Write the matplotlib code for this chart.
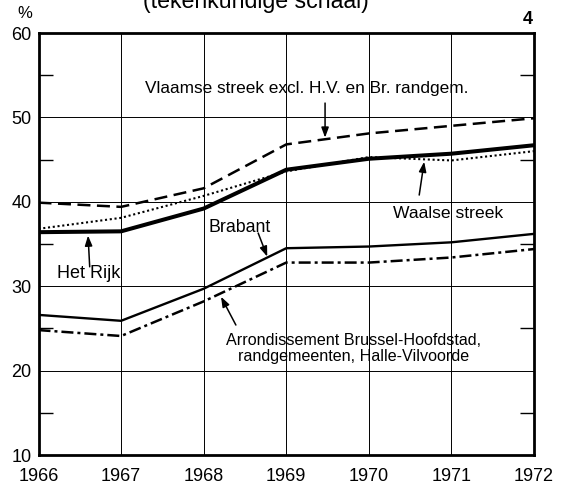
import matplotlib
matplotlib.use("Agg")
import matplotlib.pyplot as plt
from matplotlib.ticker import MultipleLocator

plt.rcParams['font.family'] = ['Liberation Sans', 'DejaVu Sans']

years = [1966, 1967, 1968, 1969, 1970, 1971, 1972]
het_rijk = [36.4, 36.5, 39.2, 43.8, 45.1, 45.7, 46.7]
vlaamse = [39.9, 39.4, 41.6, 46.8, 48.1, 49.0, 49.9]
waalse = [36.8, 38.1, 40.7, 43.6, 45.3, 44.9, 46.0]
brabant = [26.6, 25.9, 29.7, 34.5, 34.7, 35.2, 36.2]
arrond = [24.8, 24.1, 28.2, 32.8, 32.8, 33.4, 34.4]
y_ticks = [10, 20, 30, 40, 50, 60]

W, H = 565, 486
fig = plt.figure(figsize=(W / 100, H / 100), dpi=100)
L, R, T, B = 38.5, 534, 33, 455
ax = fig.add_axes([L / W, 1 - B / H, (R - L) / W, (B - T) / H])

ax.plot(years, vlaamse, color='black', lw=1.8, dashes=(5.2, 2.6))
ax.plot(years, waalse, color='black', lw=1.5, dashes=(1.0, 1.3))
ax.plot(years, het_rijk, color='black', lw=2.9)
ax.plot(years, brabant, color='black', lw=1.7)
ax.plot(years, arrond, color='black', lw=1.8, dashes=(4.8, 1.6, 1.2, 1.6))

ax.set_xlim(1966, 1972)
ax.set_ylim(10, 60)
ax.set_xticks(years)
ax.set_yticks(y_ticks)
ax.yaxis.set_minor_locator(MultipleLocator(5))
ax.grid(True, which='major', color='black', lw=0.7)
ax.tick_params(axis='both', which='major', length=0, labelsize=13)
ax.tick_params(axis='y', which='major', pad=5)
ax.tick_params(axis='x', which='major', pad=9)
ax.tick_params(axis='y', which='minor', length=10, width=1.0, direction='in',
               left=True, right=True)
for s in ax.spines.values():
    s.set_linewidth(2.0)

arr = dict(arrowstyle='-|>,head_length=0.6,head_width=0.22', color='black',
           lw=1.1, shrinkA=0, shrinkB=0)


def label(text, pos, tail, tip, size, **kw):
    ax.text(pos[0], pos[1], text, ha='center', va='center', fontsize=size, **kw)
    ax.annotate('', xy=tip, xytext=tail, arrowprops=arr)


label('Vlaamse streek excl. H.V. en Br. randgem.', (1969.25, 53.37),
      (1969.47, 51.7), (1969.47, 47.6), 12.4)
label('Waalse streek', (1970.96, 38.67), (1970.61, 40.8), (1970.67, 44.75), 12.6)
label('Het Rijk', (1966.61, 31.56), (1966.62, 32.3), (1966.60, 36.0), 13.0)
label('Brabant', (1968.43, 37.0), (1968.66, 36.3), (1968.77, 33.5), 12.8)
label('Arrondissement Brussel-Hoofdstad,\nrandgemeenten, Halle-Vilvoorde',
      (1969.81, 22.62), (1968.39, 25.4), (1968.21, 28.75), 11.6, linespacing=1.05)

fig.text(25 / W, 1 - 14 / H, '%', ha='center', va='center', fontsize=12)
fig.text(528 / W, 1 - 20 / H, '4', ha='center', va='center', fontsize=13,
         fontweight='bold')
fig.text(255.5 / W, 1 - 8 / H, '(tekenkundige schaal)', ha='center', va='baseline',
         fontsize=16.7)

fig.savefig('out.png', dpi=100)
